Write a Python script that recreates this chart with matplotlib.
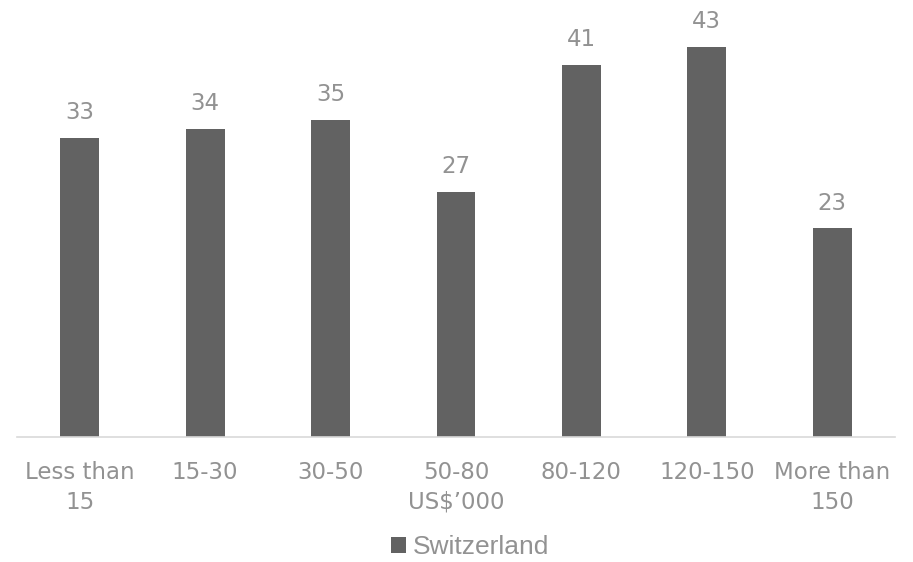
import matplotlib.pyplot as plt
import numpy as np

plt.rcParams["font.family"] = ["DejaVu Sans"]

categories = ["Less than\n15", "15-30", "30-50", "50-80\nUS$\u2019000", "80-120", "120-150", "More than\n150"]
values = [33, 34, 35, 27, 41, 43, 23]
series_name = "Switzerland"

BAR_COLOR = "#626262"
TEXT_COLOR = "#929292"

fig = plt.figure(figsize=(9.13, 5.62), dpi=100)
ax = fig.add_axes([17 / 913, 125 / 562, 878 / 913, 437 / 562])

x = np.arange(len(categories))
bars = ax.bar(x, values, width=0.31, color=BAR_COLOR, label=series_name)
for b, v in zip(bars, values):
    ax.annotate(f"{v}", (b.get_x() + b.get_width() / 2, v),
                xytext=(0, 10), textcoords="offset points",
                ha="center", va="bottom", fontsize=16.5, color=TEXT_COLOR)

ax.set_xlim(-0.5, len(categories) - 0.5)
ax.set_ylim(0, 48.2)
ax.set_xticks(x)
ax.set_xticklabels(categories, fontsize=16.5, color=TEXT_COLOR, linespacing=1.4)
ax.tick_params(axis="x", length=0, pad=17)
ax.set_yticks([])
for side in ("top", "right", "left"):
    ax.spines[side].set_visible(False)
ax.spines["bottom"].set_color("#d9d9d9")
ax.spines["bottom"].set_linewidth(1.2)

leg = fig.legend(loc="center", bbox_to_anchor=(470 / 913, 15 / 562), frameon=False,
                 prop={"family": "Liberation Sans", "size": 19}, labelcolor=TEXT_COLOR,
                 handlelength=0.55, handleheight=0.55, handletextpad=0.25)

fig.savefig("out.png", dpi=100)
